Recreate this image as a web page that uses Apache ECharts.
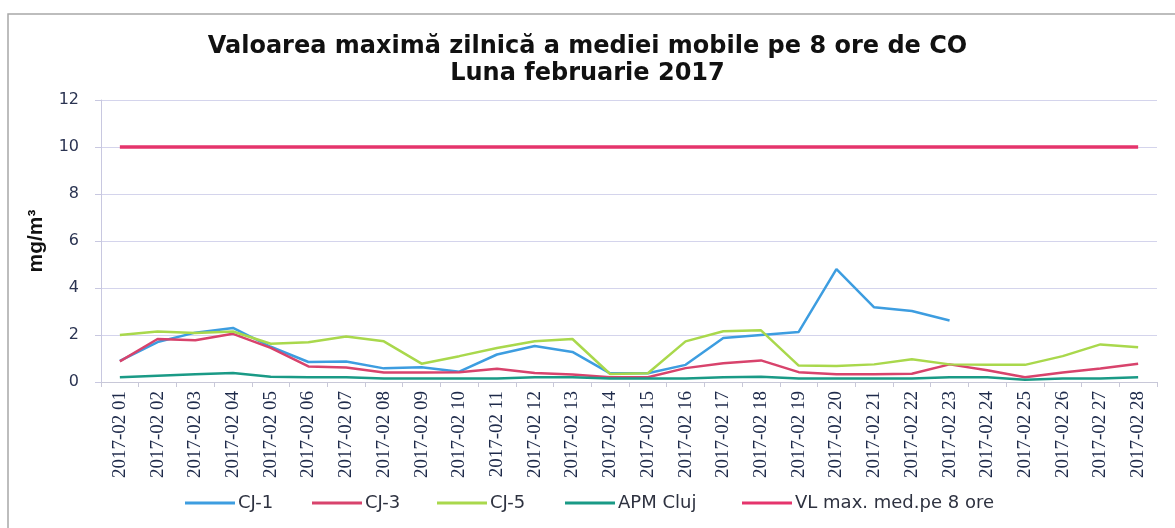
<!DOCTYPE html>
<html><head><meta charset="utf-8">
<script src="https://cdn.jsdelivr.net/npm/echarts@6/dist/echarts.min.js"></script>
<style>html,body{margin:0;padding:0;background:#fff;}#c{width:1175px;height:528px;}</style>
</head><body><div id="c"></div>
<script>
var categories = ['2017-02 01','2017-02 02','2017-02 03','2017-02 04','2017-02 05','2017-02 06','2017-02 07','2017-02 08','2017-02 09','2017-02 10','2017-02 11','2017-02 12','2017-02 13','2017-02 14','2017-02 15','2017-02 16','2017-02 17','2017-02 18','2017-02 19','2017-02 20','2017-02 21','2017-02 22','2017-02 23','2017-02 24','2017-02 25','2017-02 26','2017-02 27','2017-02 28'];
var cj1 = [0.9,1.7,2.1,2.3,1.5,0.85,0.87,0.58,0.63,0.44,1.17,1.53,1.28,0.37,0.37,0.73,1.87,2.0,2.13,4.8,3.18,3.02,2.62,null,null,null,null,null];
var cj3 = [0.88,1.83,1.78,2.05,1.45,0.66,0.62,0.4,0.4,0.42,0.56,0.38,0.32,0.2,0.2,0.59,0.8,0.92,0.42,0.33,0.33,0.35,0.75,0.5,0.2,0.4,0.57,0.78];
var cj5 = [2.0,2.15,2.08,2.15,1.63,1.69,1.94,1.73,0.78,1.1,1.45,1.73,1.83,0.34,0.37,1.73,2.16,2.2,0.7,0.68,0.75,0.97,0.75,0.73,0.73,1.1,1.6,1.48];
var apm = [0.2,0.27,0.33,0.38,0.22,0.2,0.2,0.15,0.15,0.15,0.15,0.2,0.2,0.15,0.15,0.15,0.2,0.22,0.15,0.15,0.15,0.15,0.2,0.2,0.1,0.15,0.15,0.2];
var vl = [10,10,10,10,10,10,10,10,10,10,10,10,10,10,10,10,10,10,10,10,10,10,10,10,10,10,10,10];
var seriesNames = ['CJ-1','CJ-3','CJ-5','APM Cluj','VL max. med.pe 8 ore'];
var yTicks = [0,2,4,6,8,10,12];

var chart = echarts.init(document.getElementById('c'), null, {renderer:'canvas'});
function line(name, data, color, width){
  return {name:name, type:'line', data:data, symbol:'none', connectNulls:false,
    lineStyle:{color:color, width:width}, itemStyle:{color:color}, animation:false};
}
var legendLefts = [185, 312, 437, 565, 742];
var legends = seriesNames.map(function(n, i){
  return {
    data:[n], left:legendLefts[i], top:494, itemWidth:50, itemHeight:3, itemGap:0,
    icon:'rect', padding:0,
    textStyle:{fontFamily:'DejaVu Sans', fontSize:18, color:'#2e3240', padding:[0,0,0,-2]}
  };
});
chart.setOption({
  animation:false,
  backgroundColor:'#ffffff',
  title:{
    text:'Valoarea maximă zilnică a mediei mobile pe 8 ore de CO\nLuna februarie 2017',
    left:'center', top:28, itemGap:0,
    textStyle:{fontFamily:'DejaVu Sans', fontWeight:'bold', fontSize:24, color:'#111', lineHeight:27}
  },
  graphic:[{type:'rect', shape:{x:8, y:14, width:1200, height:600}, style:{fill:'none', stroke:'#a8a8a8', lineWidth:1.5}, silent:true}],
  grid:{left:101, right:18, top:100, bottom:146, containLabel:false},
  legend:legends,
  xAxis:{
    type:'category', data:categories, boundaryGap:true,
    axisLine:{lineStyle:{color:'#c8c8d8', width:1}},
    axisTick:{show:true, lineStyle:{color:'#c8c8d8'}, length:5, interval:0},
    axisLabel:{rotate:90, interval:0, fontFamily:'"Liberation Serif", "DejaVu Serif", serif', fontSize:19, color:'#1e2a4a', margin:9},
    splitLine:{show:false}
  },
  yAxis:{
    type:'value', min:0, max:12, interval:2,
    name:'mg/m³', nameLocation:'middle', nameGap:54, nameRotate:90,
    nameTextStyle:{fontFamily:'Liberation Sans', fontWeight:'bold', fontSize:21, color:'#111'},
    axisLine:{show:true, lineStyle:{color:'#c8c8e0'}},
    axisTick:{show:true, length:6, lineStyle:{color:'#c8c8e0'}},
    axisLabel:{fontFamily:'DejaVu Sans', fontSize:16, color:'#2b3452', margin:22,
      formatter:function(v){return yTicks.indexOf(v)>=0 ? String(v) : '';}},
    splitLine:{lineStyle:{color:'#d4d4ec', width:1}}
  },
  series:[
    line(seriesNames[0], cj1, '#3d9de0', 2.5),
    line(seriesNames[1], cj3, '#d8436c', 2.5),
    line(seriesNames[2], cj5, '#a9d84c', 2.5),
    line(seriesNames[3], apm, '#1a9a86', 2.5),
    line(seriesNames[4], vl, '#e5346c', 3.5)
  ]
});
</script></body></html>
